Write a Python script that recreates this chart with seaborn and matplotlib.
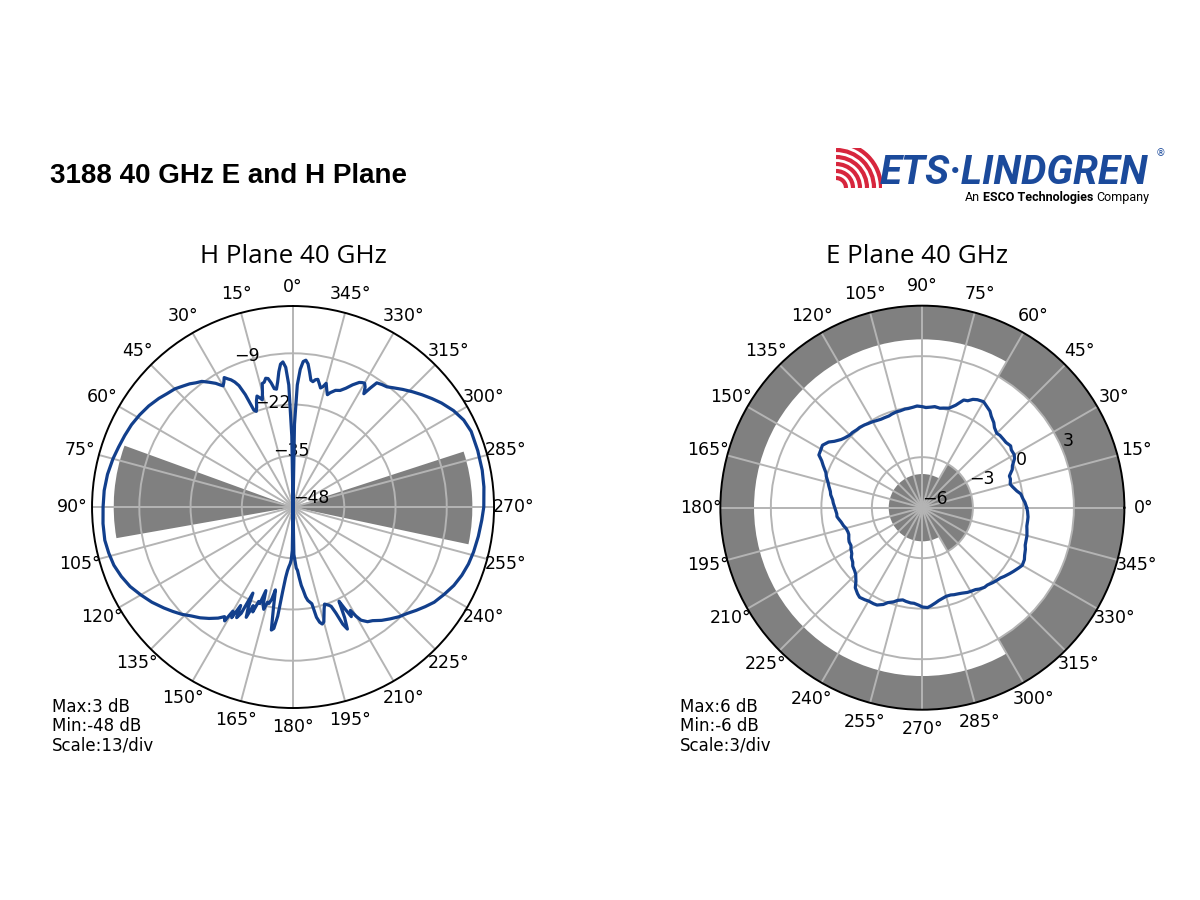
import numpy as np
import pandas as pd
import matplotlib
matplotlib.use("Agg")
import matplotlib.pyplot as plt
import seaborn as sns
from matplotlib.patches import Arc

# H plane pattern, angle (deg) and level (dB)
h_angle = [0, 1, 2, 3, 4, 5, 6, 7, 8, 9, 10, 11, 12, 13, 14, 15, 16, 17, 18, 19,
           20, 21, 22, 23, 24, 25, 26, 27, 28, 29, 30, 31, 32, 34, 36, 38, 40, 42, 45, 48,
           51, 55, 59, 63, 67, 71, 75, 80, 85, 90, 95, 100, 104, 108, 112, 116, 120, 124, 128, 131,
           134, 137, 140, 143, 146, 148, 149, 150, 151, 152, 153, 154, 155, 156, 157, 158, 159, 160, 161, 162,
           163, 164, 165, 166, 167, 168, 169, 170, 171, 172, 173, 174, 175, 176, 177, 178, 179, 180,
           181, 182, 183, 184, 185, 186, 187, 188, 189, 190, 191, 192, 193, 194, 195, 196, 197, 198, 199, 200,
           201, 202, 203, 204, 205, 206, 207, 208, 209, 210, 211, 213, 215, 218, 221, 224, 227, 230, 233, 236,
           240, 244, 248, 252, 256, 261, 266, 270, 276, 281, 287, 293, 297, 301, 305, 308, 311, 314, 317, 320,
           322, 324, 326, 327, 328, 329, 330, 331, 332, 334, 336, 338, 340, 342, 343, 344, 345, 346, 347, 348,
           349, 350, 351, 352, 353, 354, 355, 356, 357, 358, 359, 360]
h_db = [-48, -30, -17, -12.5, -11.1, -11.6, -13.5, -16, -17.8, -17.6, -16, -14.8, -14.6, -15.5, -15.7, -18, -19.7, -19, -18.4, -19.5,
        -21, -22, -21.5, -17, -14.3, -13, -12.1, -11.5, -10.8, -11.8, -12.5, -11.8, -11, -9.8, -8.6, -8, -7.2, -6.6, -5.6, -5,
        -4.2, -3.3, -2.6, -2, -1.6, -1.2, -0.7, -0.2, 0.1, 0.2, 0.4, 0.5, 0.2, -0.2, -1, -2, -3.4, -4.8, -6.4, -7.6,
        -8.8, -10.2, -11.3, -12.6, -14, -15.2, -14.3, -17.5, -15.9, -19.7, -16.5, -18, -23.9, -20, -17.6, -21, -19.5, -22.5, -22.1, -25.7,
        -22, -21, -23, -22.8, -24, -26.5, -22, -16.3, -16.8, -20, -26.4, -30, -31.8, -32.8, -33.5, -34.5, -37, -48,
        -36, -34.5, -32.5, -31.9, -30, -28, -26.7, -25, -24, -23.5, -23, -19.4, -18, -17.4, -17.8, -19.5, -21, -22.1, -21.8, -21.5,
        -21, -19, -15.7, -14.1, -17, -21.4, -19, -16.5, -18, -16, -14.5, -13.3, -12.8, -11.5, -10.4, -9.3, -8.4, -7.2, -6, -4.8,
        -3.7, -2.6, -1.8, -1.2, -0.8, -0.4, 0, 0.4, 0.7, 0.9, 1.0, 1.1, 0.6, -0.5, -2, -3.3, -4.6, -5.9, -7.2, -8.5,
        -9.3, -9.6, -10, -12, -14.1, -12.5, -11.7, -11.9, -12.2, -13.5, -15, -16.1, -16.5, -17.5, -18.2, -17, -15.5, -16.5, -17, -16,
        -15, -15.2, -15.8, -15.5, -13.5, -11.5, -10.6, -11, -13, -17, -27, -48]

# E plane pattern, angle (deg) and level (dB)
e_angle = [0, 3, 5, 8, 10, 13, 15, 18, 20, 23, 25, 28, 30, 33, 35, 38, 40, 43, 45, 48,
           50, 53, 55, 58, 60, 63, 65, 67, 69, 72, 75, 78, 80, 83, 85, 88, 90, 93, 95, 98,
           100, 103, 105, 108, 110, 113, 115, 118, 120, 123, 125, 128, 130, 133, 135, 138, 140, 143, 145, 148,
           150, 153, 155, 157, 160, 162, 165, 167, 170, 172, 175, 177, 180, 182, 184, 186, 188, 190, 193, 195,
           198, 200, 203, 205, 208, 210, 213, 215, 218, 220, 223, 225, 228, 230, 233, 235, 238, 240, 243, 245,
           248, 250, 253, 255, 258, 260, 263, 265, 268, 270, 273, 275, 278, 280, 283, 285, 288, 290, 293, 295,
           298, 300, 303, 305, 308, 310, 313, 315, 318, 320, 323, 325, 328, 330, 333, 335, 338, 340, 343, 345,
           348, 350, 353, 355, 358, 360]
e_db = [0.2, 0.1, 0.0, -0.1, -0.3, -0.5, -0.6, -0.5, -0.5, -0.2, -0.1, 0.2, 0.3, 0.3, 0.4, 0.3, 0.3, 0.3, 0.25, 0.4,
        0.6, 0.8, 1.0, 1.15, 1.27, 1.2, 1.1, 0.9, 0.85, 0.4, 0.12, 0.05, 0.0, 0.05, 0.0, -0.05, 0.0, 0.05, 0.0, -0.05,
        -0.05, -0.1, -0.1, -0.15, -0.2, -0.2, -0.2, -0.15, -0.1, -0.05, 0.0, 0.05, 0.05, 0.1, 0.1, 0.2, 0.3, 0.55, 0.8, 1.0,
        0.95, 0.9, 0.6, 0.4, 0.1, 0.0, -0.2, -0.3, -0.45, -0.5, -0.65, -0.7, -0.8, -0.85, -0.9, -0.9, -1.0, -1.1, -1.2, -1.3,
        -1.35, -1.35, -1.25, -1.2, -1.2, -1.1, -1.0, -0.85, -0.75, -0.6, -0.5, -0.4, -0.1, 0.2, 0.4, 0.5, 0.45, 0.4, 0.4, 0.38,
        0.2, 0.0, -0.15, -0.3, -0.4, -0.35, -0.3, -0.3, -0.2, -0.1, -0.06, -0.15, -0.3, -0.4, -0.5, -0.55, -0.55, -0.5, -0.45, -0.4,
        -0.3, -0.26, -0.2, -0.1, 0.0, 0.0, 0.1, 0.16, 0.24, 0.35, 0.5, 0.6, 0.75, 0.85, 0.8, 0.7, 0.6, 0.5, 0.45, 0.43,
        0.35, 0.3, 0.3, 0.3, 0.25, 0.2]

# grey spec-mask sectors
h_mask_from = [70, 258]
h_mask_to = [100, 288]
h_mask_top = [-2.5, -2.5]

e_outer_from = [-60, 60]
e_outer_to = [60, 300]
e_outer_low = [3, 4]
e_inner_from = [-60, 60]
e_inner_to = [60, 300]
e_inner_high = [-3, -4]

h_ticks = [-48, -35, -22, -9]
e_ticks = [-6, -3, 0, 3]
h_range = (-48, 3)
e_range = (-6, 6)
h_notes = ["Max:3 dB", "Min:-48 dB", "Scale:13/div"]
e_notes = ["Max:6 dB", "Min:-6 dB", "Scale:3/div"]

line_col = "#123f8c"
mask_col = "#808080"
grid_col = "#b4b4b4"

sns.set_style("white", rc={'axes.axisbelow': 'line', 'text.color': 'black',
                           'xtick.color': 'black', 'ytick.color': 'black',
                           'axes.labelcolor': 'black'})
plt.rcParams['font.family'] = ['DejaVu Sans']
plt.rcParams['axes.unicode_minus'] = True

W, H = 1200, 900
fig = plt.figure(figsize=(12, 9), dpi=100)


def polar_panel(rect, zero, ang, db, rng, ticks, m_from, m_to, m_low, m_high):
    ax = fig.add_axes(rect, projection='polar')
    ax.set_theta_zero_location(zero)
    ax.set_theta_direction(1)
    ax.set_axisbelow('line')
    # mask sectors
    for a0, a1, lo, hi in zip(m_from, m_to, m_low, m_high):
        ax.bar(np.deg2rad((a0 + a1) / 2), hi - lo, width=np.deg2rad(a1 - a0), bottom=lo,
               color=mask_col, edgecolor='none', linewidth=0, zorder=1)
    df = pd.DataFrame({'theta': np.deg2rad(ang), 'db': db})
    sns.lineplot(data=df, x='theta', y='db', sort=False, estimator=None, ax=ax,
                 color=line_col, linewidth=2.3, zorder=3)
    ax.set_ylim(*rng)
    ax.set_rticks(ticks)
    ax.set_rlabel_position(22.5)
    ax.set_thetagrids(np.arange(0, 360, 15))
    ax.grid(True, color=grid_col, linewidth=1.4)
    ax.tick_params(labelsize=12.5, colors='black')
    ax.spines['polar'].set_color('black')
    ax.spines['polar'].set_linewidth(1.4)
    ax.set_xlabel('')
    ax.set_ylabel('')
    return ax


axh = polar_panel([0.0767, 0.2133, 0.335, 0.4467], 'N', h_angle, h_db, h_range, h_ticks,
                  h_mask_from, h_mask_to, [h_range[0]] * 2, h_mask_top)
axe = polar_panel([0.6003, 0.2114, 0.3367, 0.449], 'E', e_angle, e_db, e_range, e_ticks,
                  e_outer_from + e_inner_from, e_outer_to + e_inner_to,
                  e_outer_low + [e_range[0]] * 2, [e_range[1]] * 2 + e_inner_high)

# titles and notes
fig.text(50 / W, 1 - 183 / H, "3188 40 GHz E and H Plane", fontsize=20, fontweight='bold',
         family=['Liberation Sans', 'DejaVu Sans'], va='baseline', ha='left')
fig.text(293 / W, 1 - 263 / H, "H Plane 40 GHz", fontsize=18.7, family=['Open Sans', 'DejaVu Sans'],
         ha='center', va='baseline')
fig.text(917 / W, 1 - 263 / H, "E Plane 40 GHz", fontsize=18.7, family=['Open Sans', 'DejaVu Sans'],
         ha='center', va='baseline')

for i, (hn, en) in enumerate(zip(h_notes, e_notes)):
    fig.text(52 / W, 1 - (712 + 19 * i) / H, hn, fontsize=12, ha='left', va='baseline')
    fig.text(680 / W, 1 - (712 + 19 * i) / H, en, fontsize=12, ha='left', va='baseline')

# logo
blue = "#1b4a9b"
red = "#d7263d"
logo_font = ['Roboto', 'Liberation Sans', 'DejaVu Sans']
fig.text(880 / W, 1 - 184 / H, "ETS\u00b7LINDGREN", fontsize=29, fontweight='bold', style='italic',
         color=blue, family=logo_font, va='baseline', ha='left')
fig.text(1156 / W, 1 - 156 / H, "\u00ae", fontsize=7, color=blue, ha='left', va='baseline')

renderer = fig.canvas.get_renderer()
x = 965
for part, wt in [("An", 'normal'), ("ESCO Technologies", 'bold'), ("Company", 'normal')]:
    t = fig.text(x / W, 1 - 201 / H, part, fontsize=9, fontweight=wt, family=logo_font,
                 ha='left', va='baseline')
    x = t.get_window_extent(renderer).x1 + 3

lax = fig.add_axes([836 / W, 1 - 188 / H, 46 / W, 40 / H])
lax.set_xlim(0, 46)
lax.set_ylim(0, 40)
lax.axis('off')
for rad in [10, 17, 24, 31, 38, 45]:
    lax.add_patch(Arc((0, 0), 2 * rad, 2 * rad, theta1=0, theta2=90, color=red, linewidth=3.0))

fig.savefig("out.png", dpi=100)
